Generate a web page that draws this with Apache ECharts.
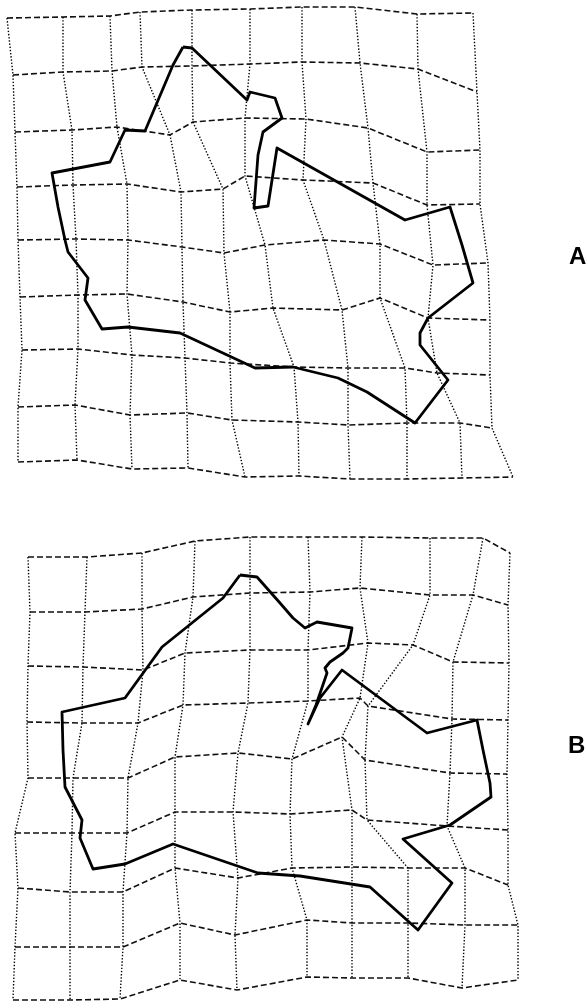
<!DOCTYPE html>
<html>
<head>
<meta charset="utf-8">
<script src="https://cdn.jsdelivr.net/npm/echarts@6/dist/echarts.min.js"></script>
<style>
html, body { margin: 0; padding: 0; background: #fff; }
#chart { width: 587px; height: 1004px; }
</style>
</head>
<body>
<div id="chart"></div>
<script>
// 变形网格 A：每行为一条横线上的节点 [x, y]
var gridA = [
    [[7,18],[63,17],[110,16],[140,12],[192,10],[250,9],[302,7],[355,7],[417,14],[473,13]],
    [[13,75],[63,72],[112,71],[142,67],[192,66],[250,64],[302,62],[360,63],[418,69],[477,92]],
    [[15,132],[72,130],[117,127],[170,135],[193,122],[245,118],[306,119],[368,128],[427,152],[480,150]],
    [[17,187],[73,185],[127,184],[181,192],[223,189],[245,176],[303,180],[373,183],[427,205],[480,204]],
    [[18,240],[76,239],[128,240],[182,247],[224,253],[265,245],[324,240],[380,244],[433,265],[488,263]],
    [[20,297],[78,295],[127,294],[183,302],[230,312],[273,308],[342,310],[380,298],[428,318],[490,320]],
    [[22,350],[78,349],[132,355],[185,358],[230,363],[294,367],[348,368],[405,368],[437,373],[490,375]],
    [[18,407],[75,405],[130,415],[187,413],[232,420],[298,422],[348,425],[407,423],[460,423],[492,428]],
    [[18,462],[77,460],[132,469],[188,468],[245,477],[299,476],[350,479],[407,479],[462,478],[513,477]]
];

// 变形网格 B
var gridB = [
    [[28,557],[87,557],[142,553],[195,541],[250,537],[308,537],[362,537],[430,538],[483,538],[510,553]],
    [[30,612],[85,612],[142,609],[193,597],[250,593],[310,592],[360,588],[430,595],[473,595],[508,605]],
    [[28,666],[83,667],[143,670],[185,653],[250,650],[308,650],[368,643],[413,645],[453,662],[509,663]],
    [[27,722],[82,723],[138,723],[183,705],[248,703],[308,701],[360,698],[368,706],[452,719],[508,720]],
    [[28,778],[73,778],[128,778],[175,757],[238,753],[292,759],[342,737],[365,760],[450,773],[507,774]],
    [[15,833],[72,833],[127,833],[175,812],[233,812],[290,814],[352,810],[367,820],[447,826],[508,830]],
    [[18,888],[70,892],[123,892],[175,868],[238,878],[292,868],[352,867],[408,868],[465,868],[508,885]],
    [[15,947],[70,947],[123,947],[180,923],[235,935],[307,920],[352,923],[408,923],[465,925],[518,925]],
    [[13,1000],[70,1000],[120,999],[180,980],[237,990],[307,977],[352,978],[408,978],[462,988],[518,980]]
];

// 轮廓线
var outlineA = [
    [183,47],[192,48],[247,100],[250,92],[275,98],[282,118],[263,132],[258,155],[254,208],[268,206],
    [277,148],[405,220],[450,207],[462,245],[473,283],[428,318],[420,333],[420,345],[448,380],[415,423],
    [367,392],[338,378],[293,367],[255,368],[180,333],[128,327],[102,329],[85,300],[88,278],[68,252],
    [65,240],[58,207],[52,173],[110,162],[125,130],[145,131],[173,65],[183,47]
];

var outlineB = [
    [240,575],[257,577],[280,603],[293,618],[305,628],[317,622],[352,628],[348,648],[343,653],[330,662],
    [325,668],[327,673],[316,705],[308,724],[320,698],[342,670],[427,733],[477,720],[483,750],[490,783],
    [491,797],[450,825],[403,839],[452,883],[418,930],[370,887],[300,876],[258,873],[173,844],[125,864],
    [93,869],[80,838],[82,820],[65,787],[63,750],[62,712],[125,698],[162,647],[223,598],[240,575]
];

var panelLabels = ['A', 'B'];
var labelPos = [[578,257], [577,746]];

var series = [];

function addGrid(grid) {
    // 横线：虚线
    for (var r = 0; r < grid.length; r++) {
        series.push({
            type: 'line',
            data: grid[r],
            symbol: 'none',
            silent: true,
            lineStyle: { color: '#111', width: 1.6, type: [6, 3] }
        });
    }
    // 竖线：点线
    for (var c = 0; c < grid[0].length; c++) {
        var col = [];
        for (var r2 = 0; r2 < grid.length; r2++) {
            col.push(grid[r2][c]);
        }
        series.push({
            type: 'line',
            data: col,
            symbol: 'none',
            silent: true,
            lineStyle: { color: '#000', width: 1.4, type: [1.4, 1.8] }
        });
    }
}

addGrid(gridA);
addGrid(gridB);

[outlineA, outlineB].forEach(function (ol) {
    series.push({
        type: 'line',
        data: ol,
        symbol: 'none',
        silent: true,
        lineStyle: { color: '#000', width: 2.8, join: 'round' }
    });
});

var option = {
    backgroundColor: '#fff',
    animation: false,
    title: panelLabels.map(function (t, i) {
        return {
            text: t,
            left: labelPos[i][0] - 9,
            top: labelPos[i][1] - 12,
            padding: 0,
            textStyle: { fontFamily: 'Liberation Sans', fontWeight: 'bold', fontSize: 24, color: '#000' }
        };
    }),
    grid: { left: 0, right: 0, top: 0, bottom: 0 },
    xAxis: { type: 'value', min: 0, max: 587, show: false },
    yAxis: { type: 'value', min: 0, max: 1004, inverse: true, show: false },
    series: series
};

var chart = echarts.init(document.getElementById('chart'));
chart.setOption(option);
</script>
</body>
</html>
